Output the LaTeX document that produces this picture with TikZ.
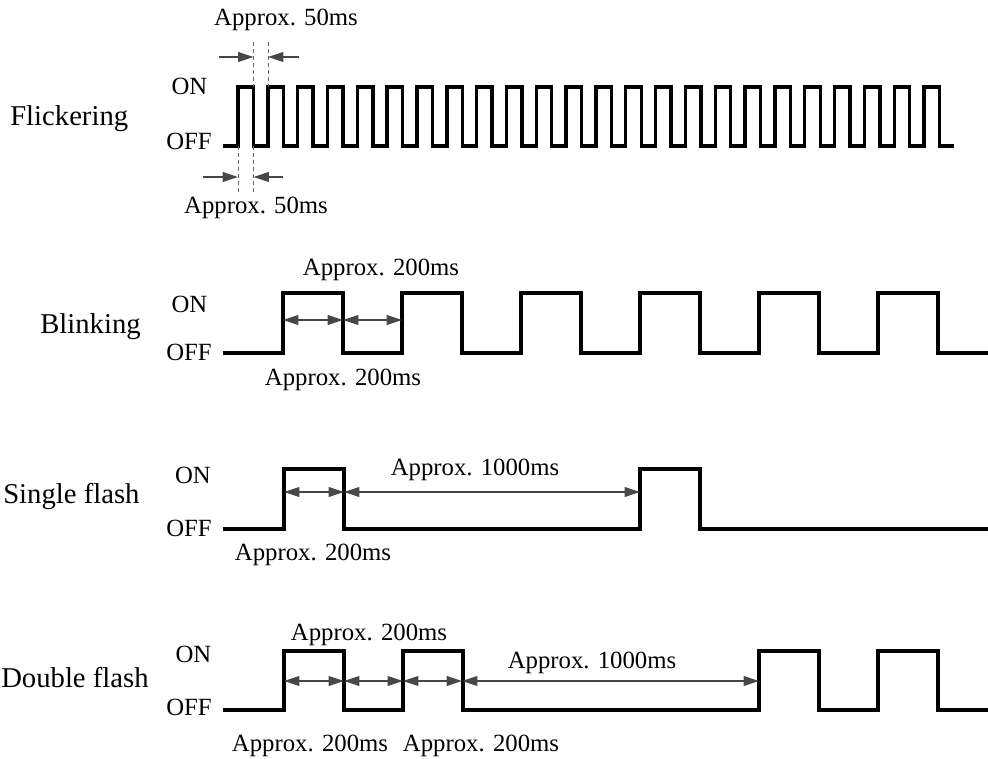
\documentclass[tikz,border=0pt]{standalone}
\usepackage{fontspec}
\setmainfont{Liberation Serif}
\usetikzlibrary{arrows.meta}

\tikzset{
  sig/.style={line width=2.4pt,line cap=rect,line join=miter},
  dim/.style={draw=black!72,line width=.8pt},
  guide/.style={draw=black!60,line width=.6pt,dash pattern=on 3pt off 2pt},
  lvl/.style={inner sep=0pt,font=\fontsize{17.6}{20}\selectfont},
  rowlbl/.style={inner sep=0pt,font=\fontsize{20.4}{24}\selectfont}
}

\begin{document}
\begin{tikzpicture}[x=.025cm,y=-.025cm,>={Triangle[length=11pt,width=7pt]}]
  \useasboundingbox (0,0) rectangle (988,758);
  %
  % flickering
  \node[rowlbl,anchor=base west] (flk) at (10,125) {Flickering};
  \node[lvl,anchor=base] (flkon) at (189.5,94) {ON};
  \node[lvl,anchor=base east] (flkoff) at (212,149) {OFF};
  \draw[sig] (225,146) \foreach \x in {0,...,23}
           { -- ({238+\x*29.83},146) -- ++(0,-59) -- ++(15.5,0) -- ++(0,59) } -- (952,146);
  \coordinate (fu1) at (253.5,42);  \coordinate (fu2) at (268,42);
  \coordinate (fl1) at (238,192);   \coordinate (fl2) at (253.5,192);
  \draw[guide] (fu1) -- (253.5,87);
  \draw[guide] (fu2) -- (268,87);
  \draw[guide] (fl1) -- (238,146);
  \draw[guide] (fl2) -- (253.5,146);
  \draw[dim,->] (219,57) -- (fu1 |- 0,57);
  \draw[dim,->] (299,57) -- (fu2 |- 0,57);
  \draw[dim,->] (203,177) -- (fl1 |- 0,177);
  \draw[dim,->] (283,177) -- (fl2 |- 0,177);
  \node[lvl,anchor=base] (f50a) at (286,25) {Approx. 50ms};
  \node[lvl,anchor=base] (f50b) at (256,213) {Approx. 50ms};
  %
  % blinking
  \node[rowlbl,anchor=base west] (blk) at (40,333) {Blinking};
  \node[lvl,anchor=base] (blkon) at (189.5,312) {ON};
  \node[lvl,anchor=base east] (blkoff) at (212,360) {OFF};
  \draw[sig] (225,353) \foreach \x in {283,402,...,878}
           { -- (\x,353) -- ++(0,-60) -- ++(60,0) -- ++(0,60) } -- (992,353);
  \coordinate (b0) at (283,320); \coordinate (b1) at (343,320); \coordinate (b2) at (402,320);
  \draw[dim,<->] (b0) -- (b1);
  \draw[dim,<->] (b1) -- (b2);
  \node[lvl,anchor=base] (b200a) at (381,275) {Approx. 200ms};
  \node[lvl,anchor=base] (b200b) at (343,385) {Approx. 200ms};
  %
  % single flash
  \node[rowlbl,anchor=base west] (sgl) at (3,503) {Single flash};
  \node[lvl,anchor=base] (sglon) at (193,483) {ON};
  \node[lvl,anchor=base east] (sgloff) at (212,536) {OFF};
  \draw[sig] (225,529) \foreach \x in {284,640}
           { -- (\x,529) -- ++(0,-60) -- ++(60,0) -- ++(0,60) } -- (992,529);
  \coordinate (s0) at (284,492); \coordinate (s1) at (344,492); \coordinate (s2) at (640,492);
  \draw[dim,<->] (s0) -- (s1);
  \draw[dim,<->] (s1) -- (s2);
  \node[lvl,anchor=base] (s1000) at (475,475) {Approx. 1000ms};
  \node[lvl,anchor=base] (s200) at (313,560) {Approx. 200ms};
  %
  % double flash
  \node[rowlbl,anchor=base west] (dbl) at (1,687) {Double flash};
  \node[lvl,anchor=base] (dblon) at (193.5,662) {ON};
  \node[lvl,anchor=base east] (dbloff) at (212,715) {OFF};
  \draw[sig] (225,710) \foreach \x in {284,403,759,878}
           { -- (\x,710) -- ++(0,-59) -- ++(60,0) -- ++(0,59) } -- (992,710);
  \coordinate (d0) at (284,681); \coordinate (d1) at (344,681);
  \coordinate (d2) at (403,681); \coordinate (d3) at (462,681);
  \coordinate (d4) at (759,681);
  \draw[dim,<->] (d0) -- (d1);
  \draw[dim,<->] (d1) -- (d2);
  \draw[dim,<->] (d2) -- (d3);
  \draw[dim,<->] (d3) -- (d4);
  \node[lvl,anchor=base] (d200a) at (369,640) {Approx. 200ms};
  \node[lvl,anchor=base] (d1000) at (592,668) {Approx. 1000ms};
  \node[lvl,anchor=base] (d200b) at (310,751) {Approx. 200ms};
  \node[lvl,anchor=base] (d200c) at (481,751) {Approx. 200ms};
\end{tikzpicture}
\end{document}
